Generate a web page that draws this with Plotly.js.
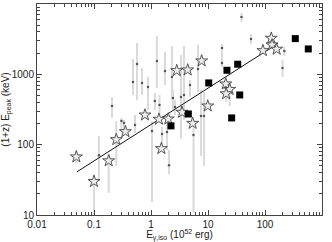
<!DOCTYPE html>
<html><head><meta charset="utf-8">
<script src="https://cdn.plot.ly/plotly-3.0.1.min.js"></script>
<style>html,body{margin:0;padding:0;background:#fff;}#chart{width:332px;height:242px;}</style>
</head><body><div id="chart"></div>
<script>
// Small dots with error bars
const dotX = [0.122, 0.207, 0.303, 0.336, 0.483, 0.568, 0.695, 0.885, 1.27, 1.76, 2.33, 1.17, 1.41, 0.524, 1.04, 1.56, 1.91, 2.07, 2.43, 3.36, 3.79, 4.83, 2.64, 6.68, 5.57, 7.54, 8.51, 38.7, 56.8, 17.6, 17.6, 218, 203];
const dotY = [71, 355, 217, 204, 780, 1405, 755, 662, 1553, 1117, 918, 419, 367, 191, 157, 142, 152, 51, 461, 477, 509, 706, 344, 1194, 137, 256, 256, 6560, 3190, 2370, 1452, 2150, 1233];
const dotHi = [133, 477, 240, 224, 1655, 2800, 1233, 918, 3515, 2085, 2535, 543, 509, 264, 217, 179, 224, 84, 600, 1888, 2535, 832, 432, 2620, 224, 600, 562, 7460, 3760, 2705, 1550, 2455, 1603];
const dotLo = [30, 240, 162, 142, 509, 432, 509, 312, 641, 706, 432, 312, 264, 147, 15.3, 96, 84, 38, 312, 121, 224, 477, 264, 562, 10.7, 69, 50, 5560, 2705, 1274, 1300, 1828, 918];

// Star markers
const starX = [0.049, 0.1, 0.181, 0.246, 0.356, 0.785, 1.38, 1.52, 2.01, 2.83, 3.5, 4.4, 5.38, 7.74, 9.9, 20.5, 24, 20.8, 92, 129, 133, 160];
const starY = [67, 30, 59, 118, 153, 264, 230, 88, 232, 1130, 289, 1155, 201, 1553, 355, 730, 610, 530, 2175, 3260, 2620, 2277];
const starHi = [82, 38, 74, 217, 153, 264, 230, 88, 232, 1130, 289, 1155, 201, 1553, 355, 730, 610, 530, 2175, 3260, 2620, 2277];
const starLo = [55, 10.3, 20.6, 50, 153, 264, 230, 88, 232, 1130, 289, 1155, 201, 1553, 355, 730, 355, 409, 2175, 3260, 2620, 2277];

// Filled squares
const sqX = [2.24, 4.52, 10.3, 21.5, 26, 33.2, 36, 340, 575];
const sqY = [185, 273, 755, 1143, 240, 1393, 509, 3220, 2296];

// Best-fit line endpoints
const fitX = [0.05, 130];
const fitY = [41, 2400];

// Tick labels
const xTickVals = [0.01, 0.1, 1, 10, 100, 1000];
const xTickText = ['0.01', '0.1', '1', '10', '100', '1000'];
const yTickVals = [10, 100, 1000, 10000];
const yTickText = ['10', '100', '1000', '10<sup>4</sup>'];

const barColor = '#dadada';
const traces = [
  {x: starX, y: starY, type: 'scatter', mode: 'markers', hoverinfo: 'none',
   marker: {size: 0.1, opacity: 0},
   error_y: {type: 'data', symmetric: false,
     array: starHi.map((h, i) => h - starY[i]),
     arrayminus: starLo.map((l, i) => starY[i] - l),
     color: barColor, thickness: 2, width: 0}},
  {x: dotX, y: dotY, type: 'scatter', mode: 'markers', hoverinfo: 'none',
   marker: {size: 2.5, color: '#555'},
   error_y: {type: 'data', symmetric: false,
     array: dotHi.map((h, i) => h - dotY[i]),
     arrayminus: dotLo.map((l, i) => dotY[i] - l),
     color: barColor, thickness: 2, width: 0}},
  {x: fitX, y: fitY, type: 'scatter', mode: 'lines', line: {color: '#111', width: 1}, hoverinfo: 'none'},
  {x: starX, y: starY, type: 'scatter', mode: 'markers', hoverinfo: 'none',
   marker: {symbol: 'star', size: 9, color: '#ececec', line: {color: '#444', width: 0.9}}},
  {x: sqX, y: sqY, type: 'scatter', mode: 'markers', hoverinfo: 'none',
   marker: {symbol: 'square', size: 7, color: '#000', line: {width: 0}}}
];

const axisCommon = {
  type: 'log', showgrid: false, zeroline: false, showline: true, mirror: 'ticks',
  linecolor: '#444', linewidth: 1, ticks: 'inside', ticklen: 5, tickcolor: '#444',
  tickmode: 'array', automargin: false,
  tickfont: {family: 'Liberation Sans, Arial, sans-serif', size: 10, color: '#222'},
  minor: {ticks: 'inside', ticklen: 3, tickcolor: '#444', dtick: 'D1', showgrid: false}
};

const layout = {
  width: 332, height: 242,
  margin: {l: 37, r: 10, t: 4, b: 27},
  paper_bgcolor: '#fff', plot_bgcolor: '#fff',
  showlegend: false,
  font: {family: 'Liberation Sans, Arial, sans-serif', size: 10, color: '#222'},
  xaxis: Object.assign({}, axisCommon, {
    range: [-2, 3], tickvals: xTickVals, ticktext: xTickText,
    title: {text: 'E<sub>γ,iso</sub> (10<sup>52</sup> erg)', font: {size: 10}, standoff: 2}
  }),
  yaxis: Object.assign({}, axisCommon, {
    range: [1, 4], tickvals: yTickVals, ticktext: yTickText,
    title: {text: '(1+z) E<sub>peak</sub> (keV)', font: {size: 10}, standoff: 2}
  })
};

Plotly.newPlot('chart', traces, layout, {displayModeBar: false, staticPlot: true});
</script>
</body></html>
